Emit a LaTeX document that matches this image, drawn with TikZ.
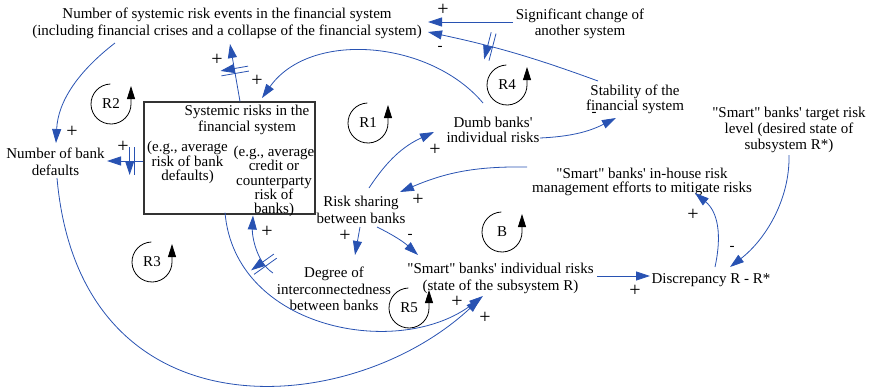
\documentclass[tikz,border=0pt]{standalone}
\usepackage{fontspec}
\setmainfont{Liberation Serif}[Ligatures=TeXOff]
\usetikzlibrary{arrows.meta,decorations.markings,calc}
\definecolor{linkblue}{RGB}{40,82,178}
% feedback-loop symbol: name, centre, label
\newcommand\loopsym[3]{%
  \node[lbl] (#1) at (#2) {#3};
  \draw[line width=0.8pt, -{Triangle[length=13pt,width=8pt]}]
    ([shift={(92:20)}]#1.center) arc[start angle=92,end angle=360,radius=20] -- ++(0,18);
}
\begin{document}
\begin{tikzpicture}[x=1pt,y=1pt,
  lbl/.style={font=\fontsize{15}{#1}\selectfont, align=center, inner sep=1pt},
  lbl/.default=16,
  sgn/.style={font=\fontsize{20}{20}\selectfont, inner sep=0pt},
  neg/.style={font=\fontsize{15}{16}\selectfont, inner sep=0pt},
  link/.style={draw=linkblue, line width=0.8pt, -{Triangle[length=14pt,width=9pt]}},
  delaymark/.style={postaction={decorate,decoration={markings,
      mark=at position #1 with {\draw[linkblue,line width=0.8pt]
        (-2.5,-14) -- (-2.5,14) (2.5,-14) -- (2.5,14);}}}}
]
\useasboundingbox (0,0) rectangle (870,-386);

% variables
\node[lbl=17] (top) at (227,-23.3) {Number of systemic risk events in the financial system\\(including financial crises and a collapse of the financial system)};
\node[lbl=16] (sig) at (580,-23.5) {Significant change of\\another system};
\node[lbl=15] (stab) at (635,-99.6) {Stability of the\\financial system};
\node[lbl=14.5] (dumb) at (493,-129.8) {Dumb banks'\\individual risks};
\node[draw=black!80, line width=1.1pt, minimum width=171pt, minimum height=112pt, inner sep=0pt] (box) at (229.5,-158) {};
\node[lbl=16] (title) at (247,-120.2) {Systemic risks in the\\financial system};
\node[lbl=13.5] (colL) at (187.5,-162.5) {(e.g., average\\risk of bank\\defaults)};
\node[lbl=14.1] (colR) at (274,-181.4) {(e.g., average\\credit or\\counterparty\\risk of\\banks)};
\node[lbl=17] (nbd) at (55.5,-162) {Number of bank\\defaults};
\node[lbl=17] (risk) at (361,-210) {Risk sharing\\between banks};
\node[lbl=16.5] (degree) at (334,-289) {Degree of\\interconnectedness\\between banks};
\node[lbl=17] (smart) at (500.5,-278) {"Smart" banks' individual risks\\(state of the subsystem R)};
\node[lbl] (disc) at (711,-280) {Discrepancy R - R*};
\node[lbl=14] (inhouse) at (642,-181.5) {"Smart" banks' in-house risk\\management efforts to mitigate risks};
\node[lbl=16] (target) at (789,-129.5) {"Smart" banks' target risk\\level (desired state of\\subsystem R*)};

% loops
\loopsym{r2}{111,-104}{R2}
\loopsym{r1}{368,-123}{R1}
\loopsym{r4}{507,-85}{R4}
\loopsym{r3}{152,-262}{R3}
\loopsym{r5}{409,-308}{R5}
\loopsym{bl}{502,-232}{B}

% causal links
\draw[link] ([shift={(-67,1.5)}]sig.center) -- ([shift={(201,1.3)}]top.center);
\draw[link, delaymark=0.64] ([shift={(-37,18.6)}]stab.center) to[bend right=4] ([shift={(201,-8.7)}]top.center);
\draw[link] ([shift={(-10,26.8)}]dumb.center) .. controls (430,-40) and (310,-30) .. ([shift={(32.5,60)}]box.center);
\draw[link, delaymark=0.53] ([shift={(10.5,0)}]box.north) -- ([shift={(3,-20.7)}]top.center);
\draw[link, delaymark=0.31] ([shift={(0,-3)}]box.west) -- ([shift={(51.5,1)}]nbd.center);
\draw[link] ([shift={(-112,-19.7)}]top.center) .. controls (80,-70) and (58,-100) .. ([shift={(0.5,19)}]nbd.center);
\draw[link] ([shift={(1.5,-16)}]nbd.center) .. controls (80,-440) and (350,-420) .. ([shift={(-20.5,-21)}]smart.center);
\draw[link] ([shift={(-4.5,2)}]box.south) .. controls (235,-330) and (400,-360) .. ([shift={(-17.5,-18)}]smart.center);
\draw[link, delaymark=0.2] ([shift={(-61,16)}]degree.center) .. controls (256,-262) and (252,-235) .. ([shift={(23.5,-1)}]box.south);
\draw[link] ([shift={(-115,14.5)}]inhouse.center) to[bend right=12] ([shift={(39,18)}]risk.center);
\draw[link] ([shift={(8,22)}]risk.center) to[bend left=16] ([shift={(-59,-2.2)}]dumb.center);
\draw[link] ([shift={(47,-8.2)}]dumb.center) to[bend right=12] ([shift={(-19,-18.4)}]stab.center);
\draw[link] ([shift={(-1,-17)}]risk.center) -- ([shift={(21,34)}]degree.center);
\draw[link] ([shift={(16,-17)}]risk.center) to[bend left=8] ([shift={(-82.5,23)}]smart.center);
\draw[link] ([shift={(96.5,2)}]smart.center) -- ([shift={(-61,4)}]disc.center);
\draw[link] ([shift={(4,13)}]disc.center) .. controls (722,-235) and (718,-212) .. ([shift={(53,-11.5)}]inhouse.center);
\draw[link] ([shift={(0,-25.5)}]target.center) .. controls (790,-200) and (765,-240) .. ([shift={(19,13)}]disc.center);

% polarities
\node[sgn] (s1) at (443,-10) {+};
\node[neg] (s2) at (440,-48) {-};
\node[sgn] (s3) at (217,-60) {+};
\node[sgn] (s4) at (257,-81) {+};
\node[sgn] (s5) at (72,-132) {+};
\node[sgn] (s6) at (123,-147) {+};
\node[sgn] (s7) at (435,-150) {+};
\node[neg] (s8) at (594,-114) {-};
\node[sgn] (s9) at (418,-200) {+};
\node[sgn] (s10) at (345,-236) {+};
\node[neg] (s11) at (410,-236) {-};
\node[sgn] (s12) at (267,-232) {+};
\node[sgn] (s13) at (457,-302) {+};
\node[sgn] (s14) at (485,-318) {+};
\node[sgn] (s15) at (635,-291) {+};
\node[sgn] (s16) at (693,-215) {+};
\node[neg] (s17) at (732,-248) {-};
\end{tikzpicture}
\end{document}
